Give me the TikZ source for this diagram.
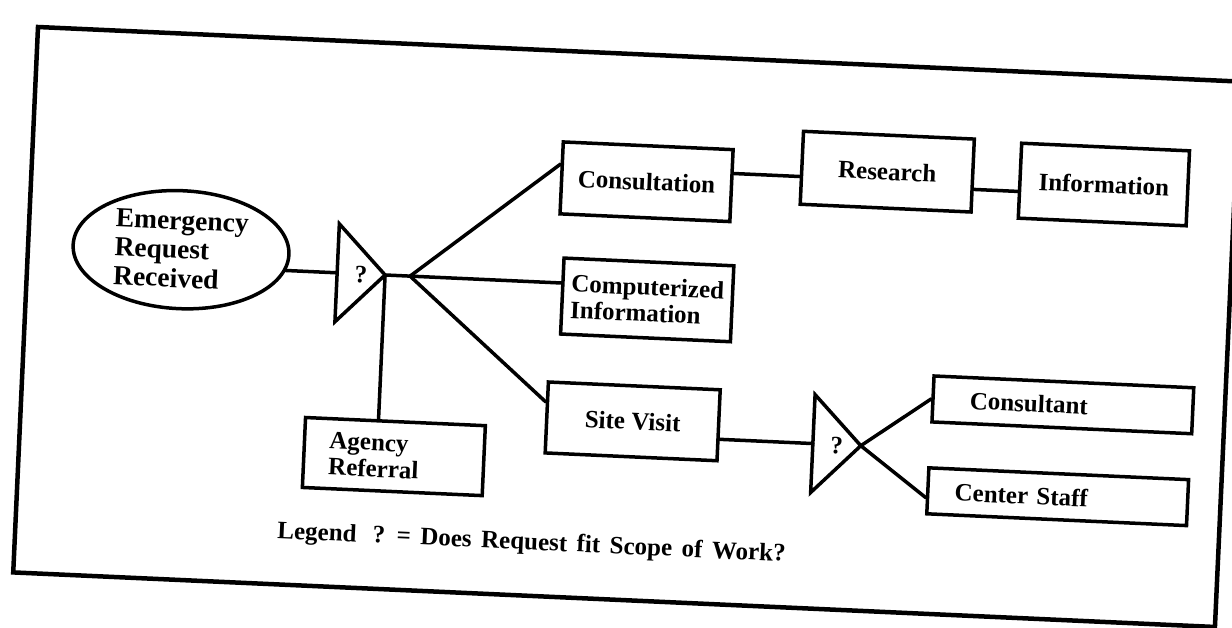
\documentclass[tikz,border=0pt]{standalone}
\usepackage{fontspec}
\setmainfont{Liberation Serif}
\usetikzlibrary{shapes.geometric}
\newcommand{\bxfont}{\fontsize{25}{26.5}\selectfont\bfseries}
\newcommand{\elfont}{\fontsize{27.5}{29}\selectfont\bfseries}
\newcommand{\lgfont}{\fontsize{25}{25}\selectfont\bfseries\spaceskip=9.5pt plus 1pt}
\begin{document}
\begin{tikzpicture}[x=1pt,y=-1pt,
  wire/.style={line width=3.5pt, line cap=round, line join=round},
  tri/.style={line width=3.5pt, line join=miter},
  box/.style={draw, rectangle, line width=3.5pt, inner sep=0pt, font=\bxfont, align=center},
  lbox/.style={box, align=left},
  qmark/.style={font=\bxfont, inner sep=0pt}]
\useasboundingbox (0,0) rectangle (1232,627);
\begin{scope}[transform canvas={shift={(38,27)}, rotate=-2.6}]
  % outer frame
  \draw[line width=4.5pt] (0,0) rectangle (1203,546);

  % start of the request
  \node[draw, ellipse, line width=3.5pt, minimum width=216pt, minimum height=118pt,
        inner sep=0pt, align=left, font=\elfont] (req) at (153,216)
        {Emergency\\Request\\Received};

  % first decision
  \coordinate (t1a) at (310,183);
  \coordinate (t1b) at (310,281);
  \coordinate (t1p) at (358,232);
  \coordinate (t1m) at (310,232);
  \coordinate (j1) at (383,232);
  \draw[tri] (t1a) -- (t1p) -- (t1b) -- cycle;
  \node[qmark] (q1) at (334,233) {?};

  % outcomes
  \node[box, minimum width=170pt, minimum height=72pt] (cons) at (615,127) {Consultation};
  \node[box, minimum width=171pt, minimum height=73pt] (res) at (855,106) {Research};
  \node[box, minimum width=168pt, minimum height=75pt] (info) at (1072,109) {Information};
  \node[lbox, minimum width=170pt, minimum height=76pt] (comp) at (621,245) {Computerized\\Information};
  \node[box, minimum width=172pt, minimum height=71pt] (site) at (612,367) {Site Visit};
  \node[lbox, text width=130pt, inner xsep=25pt, minimum height=70pt] (agency) at (375,413) {Agency\\Referral};

  % second decision
  \coordinate (t2a) at (793,332);
  \coordinate (t2b) at (793,430);
  \coordinate (t2p) at (841,381);
  \coordinate (t2m) at (793,381);
  \draw[tri] (t2a) -- (t2p) -- (t2b) -- cycle;
  \node[qmark] (q2) at (817,382) {?};

  \node[lbox, text width=186pt, inner xsep=37pt, minimum height=46pt] (cnsl) at (1041,331) {Consultant};
  \node[lbox, text width=206pt, inner xsep=27pt, minimum height=46pt] (staff) at (1040,423) {Center Staff};

  % connectors
  \draw[wire] (t1m -| req.-9) -- (t1m);
  \draw[wire] (t1p) -- (j1);
  \draw[wire] (j1) -- (cons.171);
  \draw[wire] (j1) -- (j1 -| comp.west);
  \draw[wire] (j1) -- (site.170);
  \draw[wire] (t1p) -- (t1p |- agency.north);
  \draw[wire] (cons.8) -- (cons.8 -| res.west);
  \draw[wire] (res.-9) -- (res.-9 -| info.west);
  \draw[wire] (t2m -| site.east) -- (t2m);
  \draw[wire] (t2p) -- (cnsl.west);
  \draw[wire] (t2p) -- (staff.183);

  % legend
  \node[anchor=base west, inner sep=0pt, font=\lgfont] (legend) at (262,500)
       {Legend\hspace{16pt}? = Does Request fit Scope of Work?};
\end{scope}
\end{tikzpicture}
\end{document}
